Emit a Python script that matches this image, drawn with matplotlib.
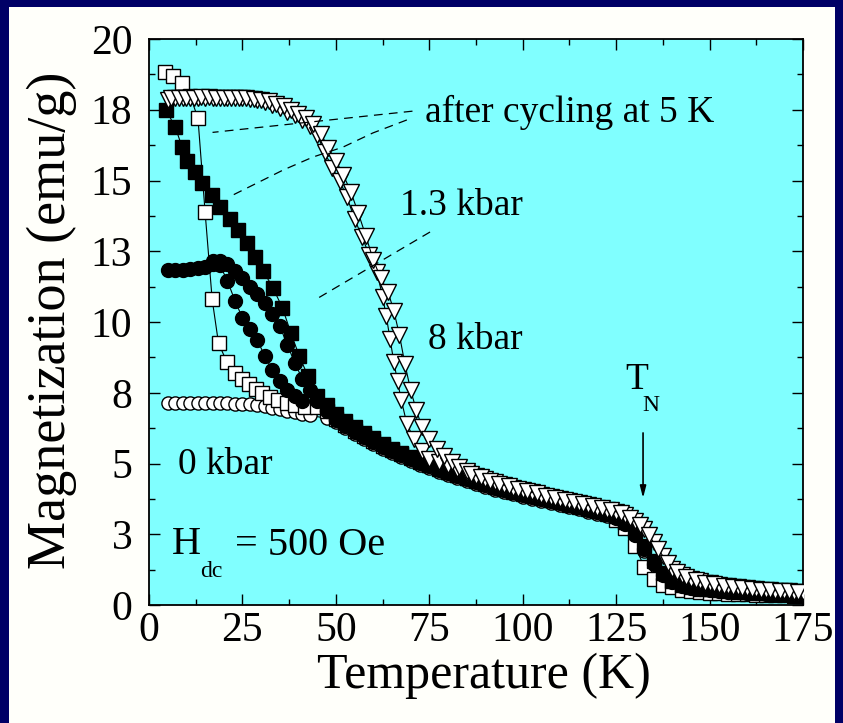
import matplotlib
matplotlib.use("Agg")
import matplotlib.pyplot as plt
from matplotlib.patches import Rectangle
from matplotlib.ticker import MultipleLocator, FixedLocator, FixedFormatter

plt.rcParams["font.family"] = ["Liberation Serif", "DejaVu Serif"]

# ---------------------------------------------------------------- data
# shared temperature grid of the high-temperature tails (K)
tail_T = [45, 47.5, 50, 52.5, 55, 57.5, 60, 62.5, 65, 67.5, 70, 72.5, 75, 77.5,
          80, 82.5, 85, 87.5, 90, 92.5, 95, 97.5, 100, 102.5, 105, 107.5, 110,
          112.5, 115, 117.5, 120, 122.5, 125, 127.5, 130, 132.5, 135, 137.5,
          140, 142.5, 145, 147.5, 150, 152.5, 155, 157.5, 160, 162.5, 165,
          167.5, 170, 172.5, 175]

# 0 kbar (open circles); its tail starts at 47.5 K
oc_T = [5, 7, 9, 11, 13, 15, 17, 19, 21, 23, 25, 27, 29, 31, 33, 35, 37, 39,
        41, 43]
oc_M = [7.15, 7.15, 7.15, 7.15, 7.15, 7.15, 7.15, 7.14, 7.13, 7.12, 7.11,
        7.09, 7.06, 7.02, 6.97, 6.92, 6.87, 6.82, 6.76, 6.70]
oc_tail = [6.60, 6.45, 6.25, 6.05, 5.86, 5.69, 5.53, 5.37, 5.22, 5.08, 4.95,
           4.83, 4.71, 4.59, 4.48, 4.38, 4.28, 4.18, 4.08, 3.99, 3.91, 3.83,
           3.75, 3.68, 3.60, 3.53, 3.45, 3.38, 3.30, 3.23, 3.13, 3.00, 2.77,
           2.40, 1.90, 1.38, 1.00, 0.76, 0.64, 0.57, 0.52, 0.49, 0.46, 0.44,
           0.42, 0.40, 0.39, 0.37, 0.36, 0.35, 0.34, 0.33]

# after cycling at 5 K (open squares)
os_T = [4.3, 6.5, 8.8, 11.0, 13.1, 15.0, 16.9, 18.6, 20.8, 22.9, 24.9, 26.7,
        28.5, 30.3, 32.3, 34.5, 36.8, 39.2, 41.7]
os_M = [18.85, 18.70, 18.45, 18.00, 17.20, 13.90, 10.80, 9.25, 8.60, 8.20,
        8.00, 7.80, 7.62, 7.48, 7.36, 7.25, 7.15, 7.05, 6.98]
os_tail = [7.00, 6.85, 6.58, 6.36, 6.15, 5.96, 5.79, 5.63, 5.47, 5.32, 5.18,
           5.05, 4.93, 4.81, 4.69, 4.58, 4.48, 4.38, 4.28, 4.18, 4.09, 4.01,
           3.93, 3.85, 3.78, 3.70, 3.63, 3.55, 3.48, 3.40, 3.32, 3.20, 3.00,
           2.72, 2.10, 1.35, 0.92, 0.72, 0.62, 0.53, 0.49, 0.46, 0.44, 0.42,
           0.40, 0.39, 0.38, 0.37, 0.36, 0.35, 0.34, 0.33, 0.32]

# filled squares
fs_T = [4.5, 7.0, 8.8, 10.3, 12.3, 14.3, 16.8, 19.0, 21.6, 23.8, 26.2, 28.4,
        30.6, 33.2, 35.7, 38.0, 40.2, 42.5]
fs_M = [17.50, 16.90, 16.20, 15.70, 15.30, 14.90, 14.50, 14.05, 13.65, 13.25,
        12.80, 12.30, 11.80, 11.20, 10.50, 9.60, 8.80, 8.10]
fs_tail = [7.40, 7.05, 6.75, 6.50, 6.28, 6.08, 5.90, 5.70, 5.52, 5.37, 5.22,
           5.08, 4.96, 4.83, 4.71, 4.60, 4.50, 4.40, 4.30, 4.20, 4.10, 4.02,
           3.95, 3.87, 3.80, 3.72, 3.65, 3.57, 3.50, 3.42, 3.35, 3.26, 3.15,
           2.95, 2.60, 2.10, 1.55, 1.12, 0.85, 0.72, 0.63, 0.58, 0.55, 0.52,
           0.50, 0.47, 0.45, 0.43, 0.41, 0.40, 0.38, 0.37, 0.35]

# filled circles, two branches
fca_T = [5, 7, 9, 11, 13, 15, 17, 19, 21, 23, 25, 27, 29, 31, 33, 35, 37, 39,
         41, 43]
fca_M = [11.85, 11.85, 11.85, 11.87, 11.90, 11.95, 12.05, 12.15, 12.05, 11.80,
         11.55, 11.25, 10.98, 10.68, 10.30, 9.85, 9.20, 8.55, 8.00, 7.60]
fca_tail = [7.20, 6.85, 6.55, 6.33, 6.12, 5.93, 5.76, 5.60, 5.44, 5.29, 5.15,
            5.02, 4.90, 4.78, 4.66, 4.55, 4.45, 4.35, 4.25, 4.15, 4.06, 3.98,
            3.90, 3.82, 3.75, 3.67, 3.60, 3.52, 3.45, 3.37, 3.30, 3.20, 3.08,
            2.85, 2.48, 1.98, 1.45, 1.05, 0.80, 0.68, 0.60, 0.55, 0.52, 0.49,
            0.47, 0.45, 0.43, 0.41, 0.39, 0.38, 0.37, 0.36, 0.34]
fcb_T = [17, 19, 21, 23, 25, 27, 29, 31, 33, 35, 37, 39, 41]
fcb_M = [12.15, 12.00, 11.45, 10.75, 10.15, 9.75, 9.35, 8.80, 8.30, 7.90,
         7.60, 7.40, 7.20]

# 1.3 / 8 kbar (open down-triangles), two branches
tr1_T = [5, 7, 9, 11, 13, 15, 17, 19, 21, 23, 25, 27, 29, 31, 33, 35, 37, 39,
         41, 43, 45, 47, 49, 51, 53, 55, 57, 59, 61, 62.5, 63.5, 64.5, 65.5,
         66.5, 67.5, 69, 71, 73, 75, 77.5, 80, 82.5, 85, 87.5, 90, 92.5, 95,
         97.5, 100, 102.5, 105, 107.5, 110, 112.5, 115, 117.5, 120, 122.5,
         125, 127.5, 130, 132.5, 135, 137.5, 140, 142.5, 145, 147.5, 150,
         152.5, 155, 157.5, 160, 162.5, 165, 167.5, 170, 172.5, 175]
tr1_M = [17.85, 17.90, 17.90, 17.92, 17.93, 17.93, 17.93, 17.92, 17.92,
         17.92, 17.90, 17.88, 17.84, 17.76, 17.66, 17.55, 17.42, 17.30, 17.15,
         16.92, 16.60, 16.00, 15.45, 15.00, 14.40, 13.65, 13.00, 12.35, 11.75,
         10.90, 10.20, 9.40, 8.60, 7.90, 7.25, 6.40, 5.85, 5.45, 5.15, 5.05,
         4.93, 4.81, 4.68, 4.56, 4.44, 4.33, 4.23, 4.14, 4.06, 3.98, 3.90,
         3.83, 3.75, 3.68, 3.60, 3.52, 3.44, 3.37, 3.29, 3.17, 2.97, 2.67,
         2.22, 1.72, 1.28, 1.06, 0.93, 0.84, 0.77, 0.71, 0.66, 0.62, 0.59,
         0.56, 0.53, 0.51, 0.49, 0.47, 0.45]
tr2_T = [6, 8, 10, 12, 14, 16, 18, 20, 22, 24, 26, 28, 30, 32, 34, 36, 38, 40,
         42, 44, 46, 48, 50, 52, 54, 56, 58, 60, 62, 64, 65.5, 67, 68.5, 70,
         71.5, 73, 75, 77, 79, 81, 83, 85, 86.25, 88.75, 91.25, 93.75, 96.25,
         98.75, 101.25, 103.75, 106.25, 108.75, 111.25, 113.75, 116.25,
         118.75, 121.25, 123.75, 126.25, 128.75, 131.25, 133.75, 136.25,
         138.75, 141.25, 143.75, 146.25, 148.75, 151.25, 153.75, 156.25,
         158.75, 161.25, 163.75, 166.25, 168.75, 171.25, 173.75]
tr2_M = [17.90, 17.92, 17.93, 17.93, 17.94, 17.94, 17.93, 17.93, 17.92, 17.92,
         17.90, 17.88, 17.85, 17.80, 17.72, 17.62, 17.50, 17.36, 17.20, 17.00,
         16.65, 16.15, 15.70, 15.20, 14.60, 13.85, 13.05, 12.20, 11.55, 11.05,
         10.40, 9.55, 8.50, 7.60, 6.90, 6.30, 5.85, 5.50, 5.25, 5.05, 4.88,
         4.72, 4.64, 4.51, 4.39, 4.28, 4.19, 4.10, 4.02, 3.94, 3.86, 3.79,
         3.71, 3.64, 3.56, 3.49, 3.41, 3.34, 3.25, 3.09, 2.84, 2.46, 1.98,
         1.48, 1.16, 0.99, 0.88, 0.79, 0.73, 0.68, 0.63, 0.60, 0.57, 0.54,
         0.52, 0.50, 0.48, 0.46]

# dashed leader lines from the labels to the curves
lead1_T = [70.5, 17.0]
lead1_M = [17.45, 16.70]
lead2_T = [69.0, 59.9, 51.9, 43.9, 35.9, 28.9, 22.5]
lead2_M = [17.14, 16.68, 16.18, 15.83, 15.37, 14.91, 14.49]
lead3_T = [75.2, 44.4]
lead3_M = [13.18, 10.78]

x_ticks = [0, 25, 50, 75, 100, 125, 150, 175]
y_ticks = [0, 2.5, 5, 7.5, 10, 12.5, 15, 17.5, 20]
y_tick_labels = ["0", "3", "5", "8", "10", "13", "15", "18", "20"]

# ---------------------------------------------------------------- figure
W, H = 843, 723
fig = plt.figure(figsize=(W / 100, H / 100), dpi=100, facecolor="#000066")
fig.patches.append(Rectangle((9 / W, 0), (835 - 9) / W, (H - 7) / H,
                             transform=fig.transFigure, facecolor="#FFFFFA",
                             edgecolor="none", zorder=-5))

ax = fig.add_axes([149 / W, (H - 605) / H, 654 / W, 566 / H])
ax.set_zorder(2)
ax.set_facecolor("#80FFFF")
ax.set_xlim(0, 175)
ax.set_ylim(0, 20)

line_kw = dict(color="black", lw=0.8, mec="black", mew=1.0)

ax.plot(oc_T + tail_T[1:], oc_M + oc_tail, marker="o", ms=9.5,
        mfc="white", zorder=3, **line_kw)
ax.plot(os_T + tail_T, os_M + os_tail, marker="s", ms=10, mfc="white",
        zorder=4, **line_kw)
ax.plot(fcb_T, fcb_M, marker="o", ms=10, mfc="black", zorder=5, **line_kw)
ax.plot(fca_T + tail_T, fca_M + fca_tail, marker="o", ms=10, mfc="black",
        zorder=5, **line_kw)
ax.plot(fs_T + tail_T, fs_M + fs_tail, marker="s", ms=10.5, mfc="black",
        zorder=6, **line_kw)
ax.plot(tr1_T, tr1_M, marker="v", ms=11.5, mfc="white", zorder=7, **line_kw)
ax.plot(tr2_T, tr2_M, marker="v", ms=11.5, mfc="white", zorder=7, **line_kw)

dash = dict(color="black", lw=0.9, ls=(0, (7, 5)), zorder=8)
ax.plot(lead1_T, lead1_M, **dash)
ax.plot(lead2_T, lead2_M, **dash)
ax.plot(lead3_T, lead3_M, **dash)

# ---------------------------------------------------------------- labels
txt = dict(color="black", ha="left", va="center", zorder=9)
ax.text(73.9, 17.4, "after cycling at 5 K", fontsize=27, **txt)
ax.text(67.2, 14.1, "1.3 kbar", fontsize=27, **txt)
ax.text(74.7, 9.36, "8 kbar", fontsize=27, **txt)
ax.text(7.8, 4.95, "0 kbar", fontsize=27, **txt)
ax.text(6.1, 2.14, "H", fontsize=29, **txt)
ax.text(13.6, 1.2, "dc", fontsize=17, **txt)
ax.text(23.0, 2.12, "= 500 Oe", fontsize=29, **txt)
ax.text(127.4, 7.95, "T", fontsize=27, **txt)
ax.text(132.0, 7.05, "N", fontsize=17, **txt)
ax.annotate("", xy=(132.2, 3.78), xytext=(132.2, 6.08),
            arrowprops=dict(arrowstyle="-|>,head_width=0.18,head_length=0.7",
                            color="black", lw=1.2, shrinkA=0, shrinkB=0))

# ---------------------------------------------------------------- axes
ax.xaxis.set_major_locator(FixedLocator(x_ticks))
ax.xaxis.set_minor_locator(MultipleLocator(12.5))
ax.yaxis.set_major_locator(FixedLocator(y_ticks))
ax.yaxis.set_major_formatter(FixedFormatter(y_tick_labels))
ax.yaxis.set_minor_locator(MultipleLocator(1.25))
ax.tick_params(which="both", direction="in", top=True, right=True,
               width=1.0, colors="black", labelsize=30)
ax.tick_params(which="major", length=8)
ax.tick_params(which="minor", length=4)
ax.tick_params(axis="x", pad=4.5)
ax.tick_params(axis="y", pad=12)
for s in ax.spines.values():
    s.set_linewidth(1.3)

fig.text(484 / W, 1 - 676 / H, "Temperature (K)", fontsize=36,
         ha="center", va="center")
fig.text(52 / W, 1 - 320 / H, "Magnetization (emu/g)", fontsize=39,
         rotation=90, ha="center", va="center")

fig.savefig("out.png", dpi=100, facecolor=fig.get_facecolor())
